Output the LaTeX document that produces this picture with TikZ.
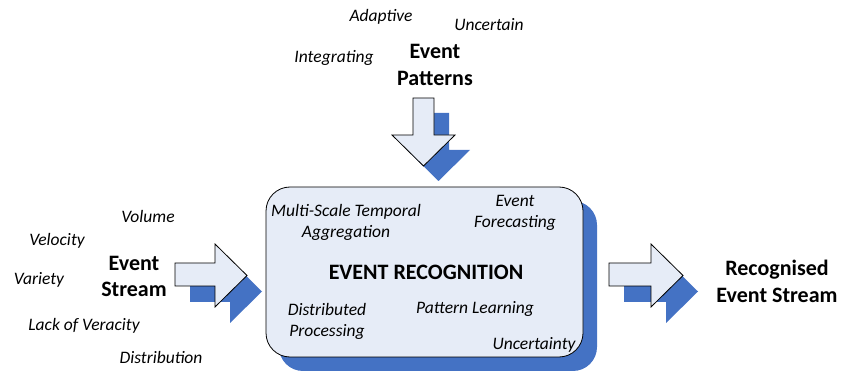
\documentclass[tikz,border=0pt]{standalone}
\usepackage{fontspec}
\setmainfont{Carlito}
\definecolor{shadowblue}{HTML}{4472C4}
\definecolor{paleblue}{HTML}{E6ECF7}
\begin{document}
\begin{tikzpicture}[x=1pt,y=-1pt,
  lbl/.style={font=\fontsize{17.5}{21}\selectfont\itshape, inner sep=0pt},
  title/.style={font=\fontsize{22}{26.5}\selectfont\bfseries, align=center, inner sep=0pt},
  inlbl/.style={font=\fontsize{17.5}{21}\selectfont\itshape, align=center, inner sep=0pt},
  arrowbody/.style={fill=paleblue, draw=black, line width=0.8pt, line join=miter},
  arrowshade/.style={fill=shadowblue, draw=none}]
\useasboundingbox (0,0) rectangle (841,371);

% main processing box with its offset shadow
\fill[shadowblue, rounded corners=24pt] (279,201) rectangle (597,371);
\draw[fill=paleblue, draw=black, line width=0.8pt, rounded corners=24pt] (266,187) rectangle (583,357);

% down arrow (event patterns)
\fill[arrowshade, shift={(15,15)}] (413,98) -- (434,98) -- (434,135) -- (455,135) -- (423.5,166) -- (392,135) -- (413,135) -- cycle;
\draw[arrowbody] (413,98) -- (434,98) -- (434,135) -- (455,135) -- (423.5,166) -- (392,135) -- (413,135) -- cycle;

% left arrow (event stream)
\fill[arrowshade, shift={(15,16)}] (175,263) -- (215,263) -- (215,244) -- (247,275.5) -- (215,307) -- (215,286) -- (175,286) -- cycle;
\draw[arrowbody] (175,263) -- (215,263) -- (215,244) -- (247,275.5) -- (215,307) -- (215,286) -- (175,286) -- cycle;

% right arrow (recognised stream)
\fill[arrowshade, shift={(15,16)}] (609,263) -- (651,263) -- (651,244) -- (683,275.5) -- (651,307) -- (651,286) -- (609,286) -- cycle;
\draw[arrowbody] (609,263) -- (651,263) -- (651,244) -- (683,275.5) -- (651,307) -- (651,286) -- (609,286) -- cycle;

% top labels
\node[lbl] (adaptive) at (381,17) {Adaptive};
\node[lbl] (uncertain) at (489,25) {Uncertain};
\node[lbl] (integrating) at (334,58) {Integrating};
\node[title] (patterns) at (435,65) {Event\\Patterns};

% left labels
\node[lbl] (volume) at (148,216) {Volume};
\node[lbl] (velocity) at (57,241) {Velocity};
\node[lbl] (variety) at (39,280) {Variety};
\node[lbl] (veracity) at (84,326) {Lack of Veracity};
\node[lbl] (distribution) at (161,357) {Distribution};
\node[title] (stream) at (134,276.5) {Event\\Stream};

% right label
\node[title] (recognised) at (777,281.5) {Recognised\\Event Stream};

% contents of the box
\node[inlbl] (multiscale) at (346,222.5) {Multi-Scale Temporal\\Aggregation};
\node[inlbl] (forecast) at (515,213) {Event\\Forecasting};
\node[font=\fontsize{22}{26}\selectfont\bfseries, inner sep=0pt] (er) at (426,272) {EVENT RECOGNITION};
\node[inlbl] (distributed) at (327,321.5) {Distributed\\Processing};
\node[inlbl] (learning) at (475,309) {Pattern Learning};
\node[inlbl] (uncertainty) at (534,345) {Uncertainty};
\end{tikzpicture}
\end{document}
